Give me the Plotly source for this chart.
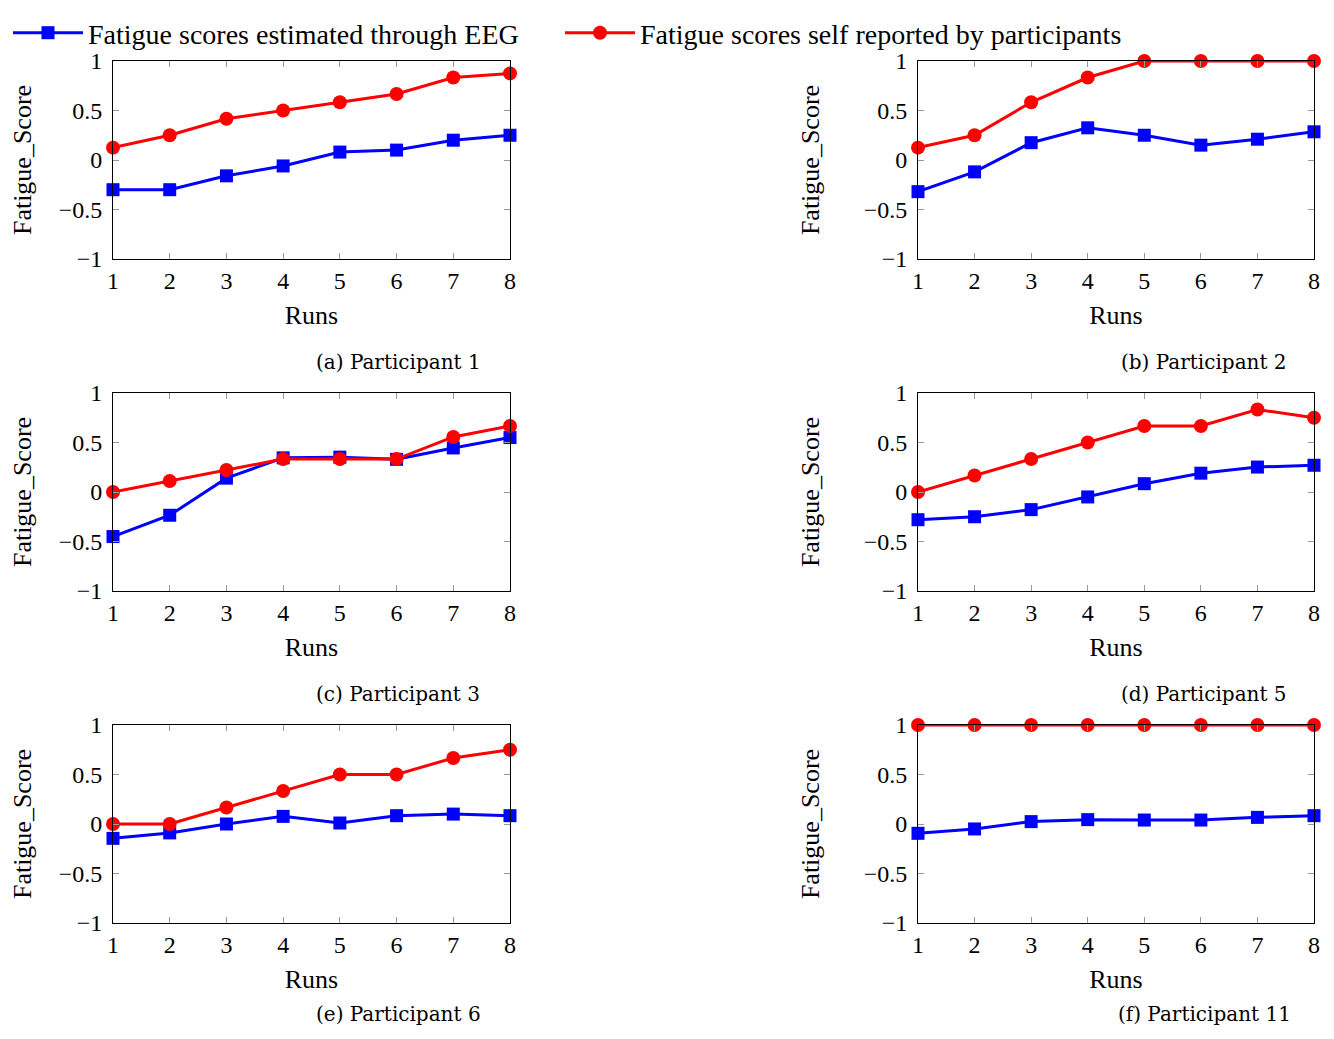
import plotly.graph_objects as go

runs = [1, 2, 3, 4, 5, 6, 7, 8]

eeg_p1 = [-0.30, -0.30, -0.16, -0.06, 0.08, 0.10, 0.20, 0.25]
self_p1 = [0.125, 0.25, 0.417, 0.5, 0.583, 0.667, 0.833, 0.875]

eeg_p2 = [-0.32, -0.12, 0.175, 0.325, 0.25, 0.15, 0.21, 0.285]
self_p2 = [0.125, 0.25, 0.583, 0.833, 1.0, 1.0, 1.0, 1.0]

eeg_p3 = [-0.45, -0.235, 0.14, 0.345, 0.352, 0.33, 0.445, 0.55]
self_p3 = [0.0, 0.111, 0.222, 0.333, 0.333, 0.333, 0.556, 0.667]

eeg_p5 = [-0.28, -0.25, -0.178, -0.05, 0.084, 0.19, 0.252, 0.27]
self_p5 = [0.0, 0.167, 0.333, 0.5, 0.667, 0.667, 0.833, 0.75]

eeg_p6 = [-0.145, -0.09, 0.0, 0.077, 0.01, 0.084, 0.10, 0.084]
self_p6 = [0.0, 0.0, 0.167, 0.333, 0.5, 0.5, 0.667, 0.75]

eeg_p11 = [-0.094, -0.05, 0.024, 0.044, 0.04, 0.04, 0.067, 0.084]
self_p11 = [1.0, 1.0, 1.0, 1.0, 1.0, 1.0, 1.0, 1.0]

captions = ["(a) Participant 1", "(b) Participant 2", "(c) Participant 3",
            "(d) Participant 5", "(e) Participant 6", "(f) Participant 11"]
eeg_all = [eeg_p1, eeg_p2, eeg_p3, eeg_p5, eeg_p6, eeg_p11]
self_all = [self_p1, self_p2, self_p3, self_p5, self_p6, self_p11]

y_ticks = [-1, -0.5, 0, 0.5, 1]
y_ticktext = ["\u22121", "\u22120.5", "0", "0.5", "1"]

eeg_name = "Fatigue scores estimated through EEG"
self_name = "Fatigue scores self reported by participants"

# page offset of the figure (body margin) and figure size
OX, OY = 8, 10
W, H = 1318, 1021
FONT = "Liberation Serif"
CAP_FONT = "DejaVu Serif"


def fx(px):
    return (px - OX) / W


def fy(py):
    return 1 - (py - OY) / H


# target page-pixel layout of plot areas
x_cols = [(113, 510), (918, 1314)]
y_rows = [(63, 261), (395, 593), (727, 925)]
cap_x = [398, 1204]
cap_y = [364, 696, 1016]

fig = go.Figure()
layout_axes = {}
for i in range(6):
    r, c = divmod(i, 2)
    n = i + 1
    xa = "x" if n == 1 else f"x{n}"
    ya = "y" if n == 1 else f"y{n}"
    fig.add_trace(go.Scatter(
        x=runs, y=eeg_all[i], mode="lines+markers", name=eeg_name,
        xaxis=xa, yaxis=ya, legendgroup="eeg", showlegend=(i == 0),
        legend="legend",
        line=dict(color="#0000ff", width=3),
        marker=dict(symbol="square", size=13, color="#0000ff"),
        cliponaxis=False,
    ))
    fig.add_trace(go.Scatter(
        x=runs, y=self_all[i], mode="lines+markers", name=self_name,
        xaxis=xa, yaxis=ya, legendgroup="self", showlegend=(i == 0),
        legend="legend2",
        line=dict(color="#ff0000", width=3),
        marker=dict(symbol="circle", size=14, color="#ff0000"),
        cliponaxis=False,
    ))
    x0, x1 = x_cols[c]
    y0, y1 = y_rows[r]
    xkey = "xaxis" if n == 1 else f"xaxis{n}"
    ykey = "yaxis" if n == 1 else f"yaxis{n}"
    layout_axes[xkey] = dict(
        domain=[fx(x0), fx(x1)], anchor=ya, range=[1, 8], automargin=False,
        tickvals=runs, ticks="inside", ticklen=6, tickcolor="#999999",
        showline=True, linecolor="black", linewidth=1, mirror="ticks",
        showgrid=False, zeroline=False, ticklabelstandoff=0,
        tickfont=dict(family=FONT, size=24, color="black"),
        title=dict(text="Runs", font=dict(family=FONT, size=26, color="black"), standoff=13),
    )
    layout_axes[ykey] = dict(
        domain=[fy(y1), fy(y0)], anchor=xa, range=[-1, 1], automargin=False,
        tickvals=y_ticks, ticktext=y_ticktext, ticks="inside", ticklen=6,
        tickcolor="#999999", ticklabelstandoff=5,
        showline=True, linecolor="black", linewidth=1, mirror="ticks",
        showgrid=False, zeroline=False,
        tickfont=dict(family=FONT, size=24, color="black"),
        title=dict(text="Fatigue_Score", font=dict(family=FONT, size=26, color="black"), standoff=36),
    )
    fig.add_annotation(
        text=captions[i], xref="paper", yref="paper",
        x=fx(cap_x[c]), y=fy(cap_y[r]), xanchor="center", yanchor="middle",
        showarrow=False, font=dict(family=CAP_FONT, size=20, color="black"),
    )

legend_style = dict(orientation="h", y=1, xanchor="left", yanchor="top",
                    font=dict(family=FONT, size=28, color="black"),
                    bgcolor="rgba(0,0,0,0)", itemwidth=70)

fig.update_layout(
    width=W, height=H,
    margin=dict(l=0, r=0, t=0, b=0),
    paper_bgcolor="white", plot_bgcolor="white",
    showlegend=True,
    legend=dict(x=fx(8), **legend_style),
    legend2=dict(x=fx(560), **legend_style),
    **layout_axes,
)

fig.write_html("out.html")
